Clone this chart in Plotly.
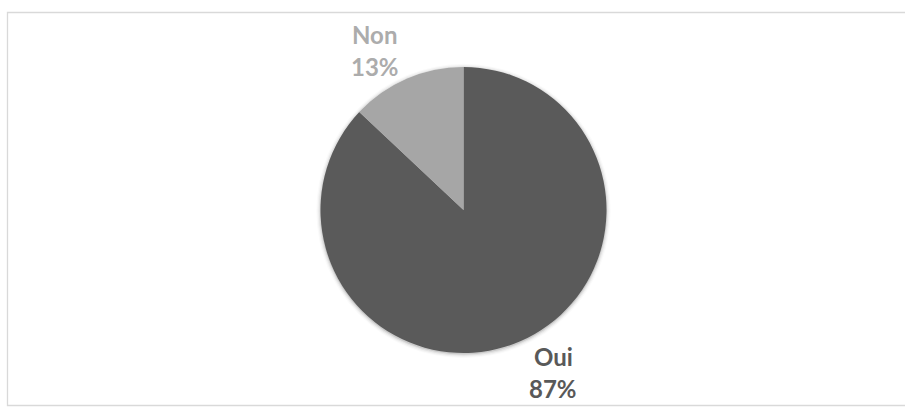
import plotly.graph_objects as go

# Survey answers and their shares (%)
labels = ["Oui", "Non"]
values = [87, 13]
slice_colors = ["#5a5a5a", "#a6a6a6"]
label_colors = ["#595959", "#acacac"]

W, H = 905, 407
cx, cy, r = 463.5, 210.0, 143.0  # pie centre and radius in pixels (from top-left)


def px_x(x):
    return x / W


def px_y(y):
    return (H - y) / H


fig = go.Figure()
fig.add_trace(go.Pie(
    labels=labels,
    values=values,
    sort=False,
    direction="clockwise",
    rotation=0,
    marker=dict(colors=slice_colors, line=dict(width=0)),
    textinfo="none",
    hoverinfo="skip",
    showlegend=False,
    domain=dict(x=[px_x(cx - r), px_x(cx + r)], y=[px_y(cy + r), px_y(cy - r)]),
))

# soft shadow ring beneath the pie
shapes = []
for i, op in enumerate([0.10, 0.06, 0.035, 0.018]):
    rr = r + 0.6 + i * 1.2
    shapes.append(dict(
        type="circle", xref="paper", yref="paper", layer="below",
        x0=px_x(cx - rr), x1=px_x(cx + rr),
        y0=px_y(cy + 1 + rr), y1=px_y(cy + 1 - rr),
        line=dict(width=0), fillcolor=f"rgba(0,0,0,{op})",
    ))

# chart-area border
shapes.append(dict(
    type="rect", xref="paper", yref="paper", layer="above",
    x0=px_x(7.5), x1=px_x(W + 5), y0=px_y(405.5), y1=px_y(12.5),
    line=dict(color="#d9d9d9", width=1.3), fillcolor="rgba(0,0,0,0)",
))

# data labels: category name above its percentage
label_pos = {"Oui": (553, 356, 388), "Non": (374.5, 34, 67)}
total = sum(values)
annotations = []
for name, val, col in zip(labels, values, label_colors):
    x, y1, y2 = label_pos[name]
    pct = f"{round(val / total * 100)}%"
    for txt, y in ((name, y1), (pct, y2)):
        annotations.append(dict(
            text=txt, xref="paper", yref="paper",
            x=px_x(x), y=px_y(y), xanchor="center", yanchor="middle",
            showarrow=False,
            font=dict(family="Lato", size=24, color=col, weight="bold"),
        ))

fig.update_layout(
    width=W, height=H,
    margin=dict(l=0, r=0, t=0, b=0),
    paper_bgcolor="white",
    plot_bgcolor="white",
    shapes=shapes,
    annotations=annotations,
)

fig.write_html("out.html")
